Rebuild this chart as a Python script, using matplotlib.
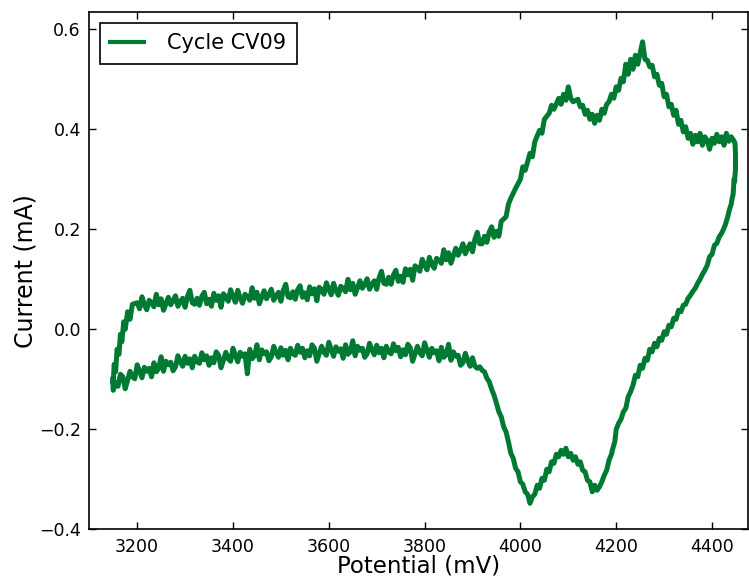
import matplotlib
matplotlib.use("Agg")
import matplotlib.pyplot as plt

# ---- Anodic (forward) sweep: potential in mV, current in mA ----
# turn-on at the lower vertex
E_fwd_start = [3150, 3152, 3155, 3158, 3162, 3165, 3168, 3172, 3175, 3180, 3185, 3190]
I_fwd_start = [-0.105, -0.070, -0.085, -0.040, -0.050, -0.010, -0.025, 0.015, 0.000, 0.035, 0.020, 0.050]

# capacitive region, 5 mV steps
E_fwd_flat = [3200, 3205, 3210, 3215, 3220, 3225, 3230, 3235, 3240, 3245,
              3250, 3255, 3260, 3265, 3270, 3275, 3280, 3285, 3290, 3295,
              3300, 3305, 3310, 3315, 3320, 3325, 3330, 3335, 3340, 3345,
              3350, 3355, 3360, 3365, 3370, 3375, 3380, 3385, 3390, 3395,
              3400, 3405, 3410, 3415, 3420, 3425, 3430, 3435, 3440, 3445,
              3450, 3455, 3460, 3465, 3470, 3475, 3480, 3485, 3490, 3495,
              3500, 3505, 3510, 3515, 3520, 3525, 3530, 3535, 3540, 3545,
              3550, 3555, 3560, 3565, 3570, 3575, 3580, 3585, 3590, 3595,
              3600, 3605, 3610, 3615, 3620, 3625, 3630, 3635, 3640, 3645,
              3650, 3655, 3660, 3665, 3670, 3675, 3680, 3685, 3690, 3695,
              3700, 3705, 3710, 3715, 3720, 3725, 3730, 3735, 3740, 3745,
              3750, 3755, 3760, 3765, 3770, 3775, 3780, 3785, 3790, 3795,
              3800, 3805, 3810, 3815, 3820, 3825, 3830, 3835, 3840, 3845,
              3850, 3855, 3860, 3865, 3870, 3875, 3880, 3885, 3890, 3895,
              3900, 3905, 3910, 3915, 3920, 3925, 3930, 3935, 3940, 3945,
              3950, 3955, 3960]
I_fwd_flat = [0.053, 0.041, 0.065, 0.049, 0.039, 0.058, 0.053, 0.045, 0.070, 0.049,
              0.061, 0.038, 0.051, 0.064, 0.049, 0.057, 0.067, 0.046, 0.055, 0.062,
              0.044, 0.066, 0.078, 0.053, 0.050, 0.062, 0.048, 0.066, 0.074, 0.051,
              0.060, 0.046, 0.072, 0.058, 0.067, 0.044, 0.071, 0.065, 0.056, 0.079,
              0.066, 0.054, 0.078, 0.062, 0.052, 0.070, 0.066, 0.058, 0.083, 0.062,
              0.074, 0.051, 0.064, 0.077, 0.061, 0.070, 0.080, 0.058, 0.067, 0.074,
              0.056, 0.078, 0.090, 0.065, 0.063, 0.075, 0.060, 0.079, 0.087, 0.064,
              0.073, 0.059, 0.085, 0.071, 0.081, 0.057, 0.084, 0.079, 0.070, 0.093,
              0.080, 0.069, 0.092, 0.077, 0.068, 0.086, 0.082, 0.075, 0.100, 0.079,
              0.092, 0.070, 0.083, 0.097, 0.082, 0.090, 0.101, 0.080, 0.090, 0.097,
              0.080, 0.103, 0.116, 0.092, 0.090, 0.104, 0.090, 0.109, 0.118, 0.096,
              0.106, 0.094, 0.121, 0.109, 0.120, 0.098, 0.127, 0.123, 0.116, 0.140,
              0.129, 0.119, 0.144, 0.130, 0.122, 0.142, 0.138, 0.132, 0.159, 0.139,
              0.153, 0.132, 0.147, 0.162, 0.148, 0.158, 0.171, 0.151, 0.162, 0.171,
              0.155, 0.180, 0.194, 0.171, 0.171, 0.186, 0.174, 0.195, 0.205, 0.184,
              0.196, 0.186, 0.216]

# faradaic region: two oxidation peaks, then plateau up to the upper vertex
E_fwd_peaks = [3970, 3975, 3980, 3990,
               4000, 4005, 4010, 4020, 4025, 4030, 4040, 4045, 4050, 4060, 4065, 4070,
               4080, 4085, 4090, 4095, 4100, 4105, 4110, 4120, 4125, 4130, 4135,
               4140, 4145, 4150, 4155, 4160, 4165, 4170, 4175, 4180, 4185, 4190, 4195,
               4200, 4205, 4210, 4215, 4220, 4225, 4230, 4235, 4240, 4245, 4250, 4255,
               4260, 4265, 4270, 4275, 4280, 4285, 4290, 4295, 4300, 4305, 4310, 4315,
               4320, 4325, 4330, 4335, 4340, 4345, 4350, 4355, 4360, 4365, 4370, 4375,
               4380, 4385, 4390, 4395, 4400, 4405, 4410, 4415, 4420, 4425, 4430, 4435,
               4440, 4445, 4448]
I_fwd_peaks = [0.225, 0.250, 0.262, 0.282,
               0.300, 0.325, 0.318, 0.352, 0.345, 0.375, 0.398, 0.392, 0.420, 0.432, 0.448, 0.440,
               0.462, 0.450, 0.470, 0.458, 0.485, 0.462, 0.455, 0.460, 0.445, 0.448, 0.430,
               0.438, 0.420, 0.430, 0.412, 0.428, 0.418, 0.440, 0.432, 0.450, 0.455, 0.470, 0.462,
               0.485, 0.478, 0.502, 0.495, 0.530, 0.510, 0.540, 0.520, 0.548, 0.530, 0.552, 0.575,
               0.540, 0.538, 0.525, 0.528, 0.505, 0.510, 0.488, 0.492, 0.465, 0.470, 0.445, 0.450,
               0.428, 0.438, 0.410, 0.418, 0.395, 0.405, 0.382, 0.392, 0.370, 0.388, 0.375, 0.392,
               0.368, 0.385, 0.378, 0.360, 0.382, 0.372, 0.390, 0.375, 0.385, 0.368, 0.392, 0.376,
               0.385, 0.378, 0.372]

# ---- Cathodic (reverse) sweep ----
E_rev_peaks = [4449, 4449, 4447, 4446, 4444, 4442, 4440, 4436, 4432, 4428, 4424, 4420,
               4415, 4410, 4405, 4400, 4395, 4390, 4385, 4380, 4375, 4370, 4365, 4360,
               4355, 4350, 4345, 4340, 4335, 4330, 4325, 4320, 4315, 4310, 4305, 4300,
               4295, 4290, 4285, 4280, 4275, 4270, 4265, 4260, 4255, 4250, 4245, 4240,
               4235, 4230, 4225, 4220, 4215, 4210, 4205, 4200, 4197, 4193, 4190, 4185,
               4180, 4175, 4170, 4165, 4160, 4155, 4150, 4145, 4140, 4135, 4130, 4125,
               4120, 4115, 4110, 4105, 4100, 4095, 4090, 4085, 4080, 4075, 4070, 4065,
               4060, 4055, 4050, 4045, 4040, 4035, 4030, 4025, 4020, 4015, 4010, 4005,
               4000, 3995, 3990, 3985, 3980, 3975, 3970, 3965, 3960, 3955, 3950, 3945,
               3940, 3935, 3930, 3925, 3920, 3915, 3910]
I_rev_peaks = [0.350, 0.320, 0.295, 0.300, 0.270, 0.262, 0.250, 0.238, 0.222, 0.210, 0.200, 0.192,
               0.185, 0.172, 0.168, 0.150, 0.145, 0.128, 0.118, 0.110, 0.100, 0.092, 0.082, 0.076,
               0.068, 0.062, 0.050, 0.048, 0.035, 0.038, 0.020, 0.022, 0.005, 0.008, -0.010, -0.005,
               -0.022, -0.018, -0.035, -0.028, -0.045, -0.040, -0.062, -0.058, -0.078, -0.072, -0.095, -0.092,
               -0.112, -0.125, -0.135, -0.158, -0.165, -0.180, -0.188, -0.200, -0.225, -0.238, -0.250, -0.262,
               -0.282, -0.292, -0.305, -0.315, -0.322, -0.312, -0.325, -0.305, -0.302, -0.285, -0.282, -0.265,
               -0.270, -0.255, -0.262, -0.248, -0.255, -0.238, -0.250, -0.242, -0.255, -0.250, -0.268, -0.265,
               -0.285, -0.280, -0.302, -0.298, -0.318, -0.312, -0.330, -0.335, -0.348, -0.330, -0.325, -0.310,
               -0.305, -0.285, -0.278, -0.258, -0.248, -0.225, -0.205, -0.195, -0.175, -0.165, -0.148, -0.132,
               -0.120, -0.105, -0.098, -0.085, -0.082, -0.075, -0.078]

E_rev_flat = [3905, 3900, 3895, 3890, 3885, 3880, 3875, 3870, 3865, 3860, 3855,
              3850, 3845, 3840, 3835, 3830, 3825, 3820, 3815, 3810, 3805,
              3800, 3795, 3790, 3785, 3780, 3775, 3770, 3765, 3760, 3755,
              3750, 3745, 3740, 3735, 3730, 3725, 3720, 3715, 3710, 3705,
              3700, 3695, 3690, 3685, 3680, 3675, 3670, 3665, 3660, 3655,
              3650, 3645, 3640, 3635, 3630, 3625, 3620, 3615, 3610, 3605,
              3600, 3595, 3590, 3585, 3580, 3575, 3570, 3565, 3560, 3555,
              3550, 3545, 3540, 3535, 3530, 3525, 3520, 3515, 3510, 3505,
              3500, 3495, 3490, 3485, 3480, 3475, 3470, 3465, 3460, 3455,
              3450, 3445, 3440, 3435, 3430, 3425, 3420, 3415, 3410, 3405,
              3400, 3395, 3390, 3385, 3380, 3375, 3370, 3365, 3360, 3355,
              3350, 3345, 3340, 3335, 3330, 3325, 3320, 3315, 3310, 3305,
              3300, 3295, 3290, 3285, 3280, 3275, 3270, 3265, 3260, 3255,
              3250, 3245, 3240, 3235, 3230, 3225, 3220, 3215, 3210, 3205,
              3200, 3195, 3190, 3185, 3180, 3175, 3170, 3165, 3160, 3155, 3150, 3149]
I_rev_flat = [-0.074, -0.057, -0.074, -0.062, -0.048, -0.067, -0.072, -0.052, -0.054, -0.045, -0.062,
              -0.030, -0.051, -0.056, -0.036, -0.063, -0.043, -0.047, -0.038, -0.056, -0.042,
              -0.027, -0.053, -0.047, -0.034, -0.049, -0.064, -0.037, -0.030, -0.051, -0.041,
              -0.055, -0.036, -0.043, -0.029, -0.049, -0.046, -0.034, -0.057, -0.038, -0.047,
              -0.032, -0.051, -0.041, -0.028, -0.049, -0.056, -0.038, -0.042, -0.034, -0.053,
              -0.023, -0.045, -0.050, -0.031, -0.058, -0.039, -0.044, -0.035, -0.054, -0.040,
              -0.026, -0.052, -0.046, -0.034, -0.049, -0.064, -0.038, -0.031, -0.053, -0.043,
              -0.057, -0.038, -0.046, -0.032, -0.052, -0.049, -0.038, -0.061, -0.042, -0.052,
              -0.037, -0.056, -0.047, -0.034, -0.055, -0.063, -0.045, -0.049, -0.041, -0.061,
              -0.031, -0.053, -0.059, -0.040, -0.089, -0.049, -0.054, -0.046, -0.065, -0.052,
              -0.038, -0.064, -0.059, -0.046, -0.062, -0.077, -0.052, -0.045, -0.067, -0.057,
              -0.072, -0.053, -0.061, -0.047, -0.068, -0.065, -0.054, -0.077, -0.059, -0.068,
              -0.054, -0.074, -0.065, -0.053, -0.075, -0.083, -0.066, -0.071, -0.064, -0.084,
              -0.055, -0.078, -0.085, -0.067, -0.095, -0.078, -0.084, -0.076, -0.097, -0.084,
              -0.071, -0.099, -0.095, -0.084, -0.102, -0.119, -0.095, -0.090, -0.114, -0.106, -0.122, -0.100]

x_ticks = [3200, 3400, 3600, 3800, 4000, 4200, 4400]
y_ticks = [-0.4, -0.2, 0.0, 0.2, 0.4, 0.6]

potential = E_fwd_start + E_fwd_flat + E_fwd_peaks + E_rev_peaks + E_rev_flat
current = I_fwd_start + I_fwd_flat + I_fwd_peaks + I_rev_peaks + I_rev_flat

fig = plt.figure(figsize=(7.49, 5.77), dpi=100)
ax = fig.add_axes([0.1192, 0.0827, 0.8794, 0.896])

ax.plot(potential, current, color="#007a33", lw=3.6,
        solid_joinstyle="round", label="Cycle CV09")

ax.set_xlim(3100, 4475)
ax.set_ylim(-0.4, 0.634)
ax.set_xticks(x_ticks)
ax.set_yticks(y_ticks)
ax.tick_params(direction="in", top=True, right=True, length=5, width=1,
               labelsize=12.5, pad=6)
for s in ax.spines.values():
    s.set_linewidth(1.2)

ax.set_xlabel("Potential (mV)", fontsize=16.5, labelpad=-1)
ax.set_ylabel("Current (mA)", fontsize=17, labelpad=1)

leg = ax.legend(loc="upper left", fontsize=15, handlelength=1.65,
                handletextpad=1.1, borderpad=0.5,
                fancybox=False, framealpha=1, borderaxespad=0.5)
leg.get_frame().set_edgecolor("black")
leg.get_frame().set_linewidth(1.2)
leg.get_lines()[0].set_linewidth(3.0)

fig.savefig("out.png", dpi=100, facecolor="white")
